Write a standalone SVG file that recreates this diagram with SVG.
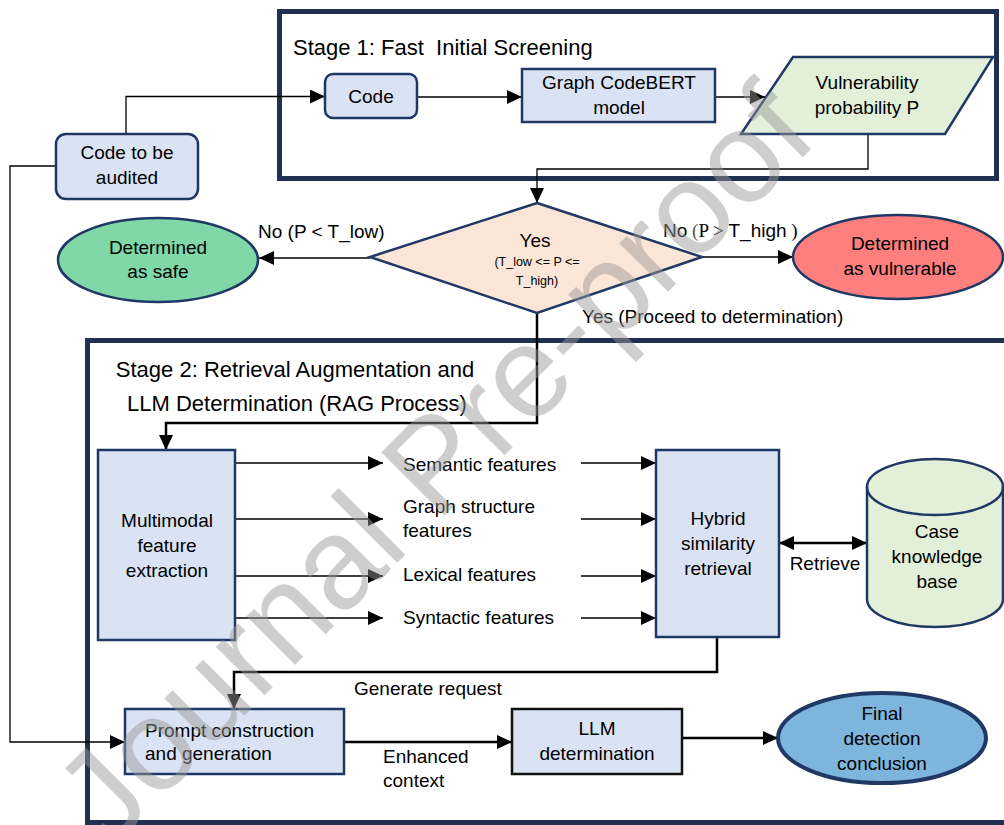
<svg xmlns="http://www.w3.org/2000/svg" width="1004" height="825" viewBox="0 0 1004 825">
<defs>
<marker id="arr" markerUnits="userSpaceOnUse" markerWidth="16" markerHeight="14" refX="15" refY="7" orient="auto-start-reverse"><path d="M0,0 L15,7 L0,14 z" fill="#000"/></marker>
<style>
text{font-family:"Liberation Sans",Arial,sans-serif;font-size:19px;fill:#000}
.c{text-anchor:middle}
.t{font-size:22px}
.box{fill:#dae3f3;stroke:#1f3864;stroke-width:2.5}
.stage{fill:none;stroke:#1f3050;stroke-width:5}
.ln{fill:none;stroke:#000;stroke-width:1.3}
.thk{fill:none;stroke:#000;stroke-width:2.5}
.wm{font-size:130px;fill:#9a9a9a;opacity:0.48}
</style>
</defs>
<rect width="1004" height="825" fill="#fff"/>
<g id="stage1"><rect class="stage" x="279.5" y="11.5" width="717" height="167"/>
<text class="t" x="293" y="55" xml:space="preserve">Stage 1: Fast  Initial Screening</text></g>
<g id="stage2"><rect class="stage" x="87.5" y="340.5" width="940" height="482"/>
<text class="t c" x="295" y="377">Stage 2: Retrieval Augmentation and</text>
<text class="t c" x="297" y="411">LLM Determination (RAG Process)</text></g>

<g id="connectors">
<path class="ln" d="M126,134 V96.5 H325" marker-end="url(#arr)"/>
<path class="ln" d="M417,97 H522" marker-end="url(#arr)"/>
<path class="ln" d="M715,97 H765" marker-end="url(#arr)"/>
<path class="ln" d="M868,134 V169 H537 V203" marker-end="url(#arr)"/>
<path class="ln" d="M370,258 H259" marker-end="url(#arr)"/>
<path class="ln" d="M702,257 H793" marker-end="url(#arr)"/>
<path class="thk" d="M537,313 V423 H166 V450" marker-end="url(#arr)"/>
<path class="ln" d="M235,463 H383" marker-end="url(#arr)"/>
<path class="ln" d="M235,519 H383" marker-end="url(#arr)"/>
<path class="ln" d="M235,576 H383" marker-end="url(#arr)"/>
<path class="ln" d="M235,618 H383" marker-end="url(#arr)"/>
<path class="ln" d="M581,463 H656" marker-end="url(#arr)"/>
<path class="ln" d="M581,519 H656" marker-end="url(#arr)"/>
<path class="ln" d="M581,576 H656" marker-end="url(#arr)"/>
<path class="ln" d="M581,618 H656" marker-end="url(#arr)"/>
<path class="thk" d="M779,543 H867" marker-start="url(#arr)" marker-end="url(#arr)"/>
<path class="thk" d="M717,637 V672 H234 V709" marker-end="url(#arr)"/>
<path class="ln" d="M56,166 H10 V742 H125" marker-end="url(#arr)"/>
<path class="thk" d="M344,742 H512" marker-end="url(#arr)"/>
<path class="thk" d="M682,738 H778" marker-end="url(#arr)"/>
<text x="258" y="238">No (P &lt; T_low)</text>
<text x="663" y="237">No<tspan font-family="Liberation Serif" fill="#555"> (</tspan><tspan font-family="Liberation Serif">P &gt; </tspan>T_high<tspan font-family="Liberation Serif"> )</tspan></text>
<text x="582" y="323">Yes (Proceed to determination)</text>
<text class="c" x="825" y="570">Retrieve</text>
<text x="354" y="695">Generate request</text>
<text x="383" y="763">Enhanced</text>
<text x="383" y="787">context</text>
</g>

<g id="code-audit"><rect class="box" x="56" y="134" width="142" height="65" rx="10"/>
<text class="c" x="127" y="159">Code to be</text><text class="c" x="127" y="184">audited</text></g>
<g id="code"><rect class="box" x="325" y="74" width="92" height="44" rx="8"/>
<text class="c" x="371" y="103">Code</text></g>
<g id="codebert"><rect class="box" x="522" y="69" width="193" height="53"/>
<text class="c" x="619" y="89">Graph CodeBERT</text><text class="c" x="619" y="114">model</text></g>
<g id="prob"><polygon points="793,57 993,57 945,134 741,134" fill="#e2efd9" stroke="#1f3864" stroke-width="2.5"/>
<text class="c" x="867" y="89">Vulnerability</text><text class="c" x="867" y="114">probability P</text></g>
<g id="decision"><polygon points="537,203 702,257 537,313 370,257" fill="#fbe5d6" stroke="#1f3864" stroke-width="2.5"/>
<text class="c" x="535" y="247">Yes</text>
<text class="c" x="537" y="266" style="font-size:12.5px">(T_low &lt;= P &lt;=</text>
<text class="c" x="537" y="285" style="font-size:12.5px">T_high)</text></g>
<g id="safe"><ellipse cx="158" cy="260" rx="100" ry="42" fill="#80d8a8" stroke="#1f3864" stroke-width="2.5"/>
<text class="c" x="158" y="254">Determined</text><text class="c" x="158" y="278">as safe</text></g>
<g id="vuln"><ellipse cx="898" cy="257" rx="105" ry="42" fill="#ff7f7f" stroke="#1f3864" stroke-width="2.5"/>
<text class="c" x="900" y="250">Determined</text><text class="c" x="900" y="275">as vulnerable</text></g>
<g id="multimodal"><rect class="box" x="98" y="450" width="137" height="190"/>
<text class="c" x="167" y="527">Multimodal</text><text class="c" x="167" y="552">feature</text><text class="c" x="167" y="577">extraction</text></g>
<g id="features">
<text x="403" y="471">Semantic features</text>
<text x="403" y="513">Graph structure</text><text x="403" y="537">features</text>
<text x="403" y="581">Lexical features</text>
<text x="403" y="624">Syntactic features</text></g>
<g id="hybrid"><rect class="box" x="656" y="450" width="123" height="187"/>
<text class="c" x="718" y="525">Hybrid</text><text class="c" x="718" y="550">similarity</text><text class="c" x="718" y="575">retrieval</text></g>
<g id="kb"><path d="M867,487 V599 A68,28 0 0 0 1003,599 V487 A68,28 0 0 0 867,487 Z" fill="#e2efd9" stroke="#1f3864" stroke-width="2.5"/>
<path d="M867,487 A68,28 0 0 0 1003,487" fill="none" stroke="#1f3864" stroke-width="2.5"/>
<text class="c" x="937" y="538">Case</text><text class="c" x="937" y="563">knowledge</text><text class="c" x="937" y="588">base</text></g>
<g id="prompt"><rect class="box" x="125" y="709" width="219" height="65"/>
<text x="145" y="737">Prompt construction</text><text x="145" y="760">and generation</text></g>
<g id="llm"><rect x="512" y="709" width="170" height="65" fill="#dae3f3" stroke="#111" stroke-width="2.5"/>
<text class="c" x="597" y="735">LLM</text><text class="c" x="597" y="760">determination</text></g>
<g id="final"><ellipse cx="882" cy="738" rx="104" ry="45" fill="#7db5dd" stroke="#1f3864" stroke-width="4"/>
<text class="c" x="882" y="720">Final</text><text class="c" x="882" y="745">detection</text><text class="c" x="882" y="770">conclusion</text></g>
<text class="wm" transform="translate(110,850) rotate(-45)">Journal Pre-proof</text>
</svg>
